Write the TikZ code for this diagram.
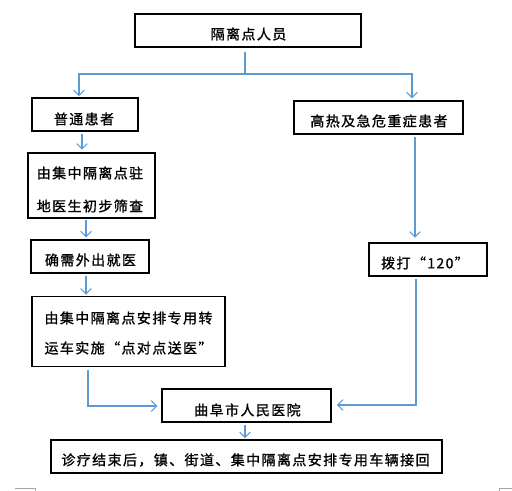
\documentclass[tikz,border=0pt]{standalone}
\usepackage{fontspec}
\newfontfamily\cjk[LetterSpace=10, FakeBold=1.2]{Noto Sans CJK SC}
\usetikzlibrary{arrows.meta}
\definecolor{ln}{HTML}{5B9BD5}
\begin{document}
\begin{tikzpicture}[x=0.75pt,y=-0.75pt,
  box/.style 2 args={draw=black, line width=0.9pt, minimum width=#1*0.75pt, minimum height=#2*0.75pt, inner sep=0pt},
  txt/.style={font=\cjk\fontsize{10.5pt}{12pt}\selectfont, align=center, inner sep=0pt},
  flow/.style={draw=ln, line width=0.8pt},
  arr/.style={flow, -{Straight Barb[length=4pt,width=8pt]}},
  cornermark/.style={draw=black!35, line width=0.6pt}]
\useasboundingbox (0,0) rectangle (512,491);
% boxes
\node[box={226}{33}] (top) at (248,30.5) {};
\node[box={106}{33}] (n1) at (85,114.5) {};
\node[box={169}{33}] (n2) at (378.5,117.5) {};
\node[box={127}{65}] (n3) at (91.5,185.5) {};
\node[box={118}{33}] (n4) at (90,256.5) {};
\node[box={193}{70}] (n5) at (128.5,331.5) {};
\node[box={118}{33}] (n6) at (428,259.5) {};
\node[box={169}{33}] (n7) at (246.5,405.5) {};
\node[box={391}{33}] (n8) at (246.5,456.5) {};
% texts
\node[txt] (t0) at (248.5,34) {隔离点人员};
\node[txt] (t1) at (84,119) {普通患者};
\node[txt] (t2) at (379,121) {高热及急危重症患者};
\node[txt, font=\cjk\fontsize{10.5pt}{24.75pt}\selectfont] (t3) at (90,189.5) {由集中隔离点驻\\地医生初步筛查};
\node[txt] (t4) at (90.5,260) {确需外出就医};
\node[txt, font=\cjk\fontsize{10.5pt}{22.5pt}\selectfont] (t5) at (128.5,333) {由集中隔离点安排专用转\\运车实施“点对点送医”};
\node[txt] (t6) at (425,263) {拨打“120”};
\node[txt] (t7) at (247.5,410) {曲阜市人民医院};
\node[txt] (t8) at (245.5,460) {诊疗结束后，镇、街道、集中隔离点安排专用车辆接回};
% connector coordinates
\coordinate (j) at (245,74);
\coordinate (cL) at (79,74);
\coordinate (cR) at (412,74);
\coordinate (a1) at (82,0);
\coordinate (a2) at (86,0);
\coordinate (a3) at (415,0);
\coordinate (a4) at (245,0);
\coordinate (bL) at (88,406);
\coordinate (bR) at (416,405);
% connectors
\draw[flow] ([yshift=-3pt]top.south -| j) -- (j);
\draw[arr, shorten >=1pt] (j) -- (cL) -- (cL |- n1.north);
\draw[arr, shorten >=1.5pt] (j) -- (cR) -- (cR |- n2.north);
\draw[arr, shorten <=1.5pt, shorten >=2pt] (n1.south -| a1) -- (n3.north -| a1);
\draw[arr, shorten <=1pt, shorten >=1.5pt] (n3.south -| a2) -- (n4.north -| a2);
\draw[arr, shorten <=1.5pt, shorten >=1pt] (n4.south -| a2) -- (n5.north -| a2);
\draw[arr, shorten <=2pt, shorten >=3.5pt] (n2.south -| a3) -- (n6.north -| a3);
\draw[arr, shorten <=2pt, shorten >=4pt] (n6.south -| bR) -- (bR) -- (n7.east |- bR);
\draw[arr, shorten <=2pt, shorten >=3pt] (n5.south -| bL) -- (bL) -- (n7.west |- bL);
\draw[arr, shorten <=1.5pt, shorten >=1pt] (n7.south -| a4) -- (n8.north -| a4);
% page corner marks
\draw[cornermark] (15,488.5) -- (35,488.5) -- (35,491);
\draw[cornermark] (512,488.5) -- (499,488.5) -- (499,491);
\end{tikzpicture}
\end{document}
